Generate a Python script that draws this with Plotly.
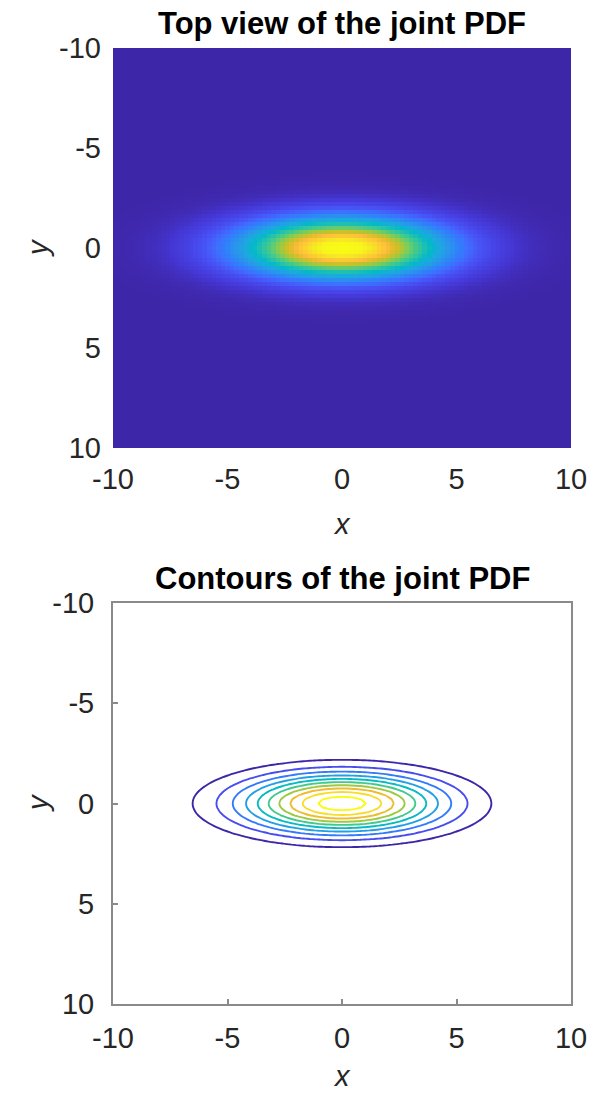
import numpy as np
import plotly.graph_objects as go

# Distribution parameters
mu_x, mu_y = 0.0, 0.0
sigma_x, sigma_y = 3.0, 1.0
grid_step = 0.2
axis_min, axis_max = -10, 10
tick_vals = [-10, -5, 0, 5, 10]
tick_text = ["-10", "-5", "0", "5", "10"]
contour_start, contour_end, contour_step = 0.005, 0.05, 0.005
titles = ["Top view of the joint PDF", "Contours of the joint PDF"]

xs = np.arange(axis_min, axis_max + grid_step / 2, grid_step)
ys = np.arange(axis_min, axis_max + grid_step / 2, grid_step)
X, Y = np.meshgrid(xs, ys)
Z = np.exp(-0.5 * (((X - mu_x) / sigma_x) ** 2 + ((Y - mu_y) / sigma_y) ** 2)) / (2 * np.pi * sigma_x * sigma_y)

parula = [
    [0.2422, 0.1504, 0.6603], [0.2706, 0.2147, 0.8364], [0.2803, 0.2782, 0.9221],
    [0.2795, 0.3447, 0.9717], [0.2440, 0.4358, 0.9988], [0.1834, 0.5074, 0.9798],
    [0.1687, 0.5703, 0.9359], [0.1380, 0.6276, 0.8973], [0.0952, 0.6798, 0.8598],
    [0.0036, 0.7203, 0.7917], [0.0964, 0.7500, 0.7120], [0.1938, 0.7758, 0.6251],
    [0.2906, 0.7973, 0.5188], [0.4456, 0.8024, 0.3909], [0.6174, 0.7876, 0.2612],
    [0.7738, 0.7598, 0.1646], [0.9035, 0.7330, 0.1774], [0.9956, 0.7434, 0.2371],
    [0.9892, 0.8136, 0.1885], [0.9610, 0.8890, 0.1537], [0.9691, 0.9606, 0.1064],
    [0.9769, 0.9839, 0.0805],
]
n = len(parula)
colorscale = [[i / (n - 1), "rgb(%d,%d,%d)" % tuple(int(round(c * 255)) for c in col)]
              for i, col in enumerate(parula)]

zmax = float(Z.max())

fig = go.Figure()
fig.add_trace(go.Heatmap(x=xs, y=ys, z=Z, colorscale=colorscale, zmin=0, zmax=zmax,
                         showscale=False, xaxis="x", yaxis="y"))
fig.add_trace(go.Contour(x=xs, y=ys, z=Z, colorscale=colorscale, zmin=0, zmax=zmax,
                         autocontour=False,
                         contours=dict(start=contour_start, end=contour_end, size=contour_step,
                                       coloring="lines"),
                         line=dict(width=1.9), showscale=False, xaxis="x2", yaxis="y2"))

FONT = "Liberation Sans, Arial, Helvetica, sans-serif"
TICKCOL = "#262626"
TICKSIZE = 29

H, W = 1093, 599
mt, mb, ml, mr = 48, 89, 113, 28
ph = H - mt - mb
top_dom = [(1004 - 448) / ph, 1.0]
bot_dom = [0.0, (1004 - 603) / ph]

def xax(anchor, show_line, standoff):
    return dict(range=[axis_min, axis_max], tickvals=tick_vals, ticktext=tick_text,
                tickfont=dict(family=FONT, size=TICKSIZE, color=TICKCOL), anchor=anchor,
                showgrid=False, zeroline=False, showline=show_line, mirror=show_line,
                linecolor="#8a8a8a", linewidth=2, ticks="inside" if show_line else "",
                ticklen=5, tickcolor="#8a8a8a", tickwidth=1.5, ticklabelstandoff=standoff)

def yax(anchor, dom, show_line):
    return dict(range=[axis_max, axis_min], tickvals=tick_vals, ticktext=tick_text,
                tickfont=dict(family=FONT, size=TICKSIZE, color=TICKCOL), anchor=anchor, domain=dom,
                showgrid=False, zeroline=False, showline=show_line, mirror=show_line,
                linecolor="#8a8a8a", linewidth=2, ticks="inside" if show_line else "",
                ticklen=5, tickcolor="#8a8a8a", tickwidth=1.5, ticklabelstandoff=11)

fig.update_layout(
    width=W, height=H, margin=dict(l=ml, r=mr, t=mt, b=mb),
    paper_bgcolor="white", plot_bgcolor="white", showlegend=False,
    xaxis=xax("y", False, 11), yaxis=yax("x", top_dom, False),
    xaxis2=xax("y2", True, 7), yaxis2=yax("x2", bot_dom, True),
)

def px_to_paper_y(py):
    return (H - mb - py) / ph

def px_to_paper_x(px):
    return (px - ml) / (W - ml - mr)

annots = [
    (titles[0], 342, 23, 31, True, 0, False),
    (titles[1], 342, 578, 31, True, 0, False),
    ("x", 342, 524, TICKSIZE, False, 0, True),
    ("x", 342, 1076, TICKSIZE, False, 0, True),
    ("y", 38, 248, TICKSIZE, False, -90, True),
    ("y", 38, 803, TICKSIZE, False, -90, True),
]
for text, px, py, size, bold, ang, italic in annots:
    t = "<b>%s</b>" % text if bold else ("<i>%s</i>" % text if italic else text)
    fig.add_annotation(text=t, xref="paper", yref="paper", x=px_to_paper_x(px), y=px_to_paper_y(py),
                       xanchor="center", yanchor="middle", showarrow=False, textangle=ang,
                       font=dict(family=FONT, size=size, color="black" if bold else TICKCOL))

fig.write_html("out.html")
